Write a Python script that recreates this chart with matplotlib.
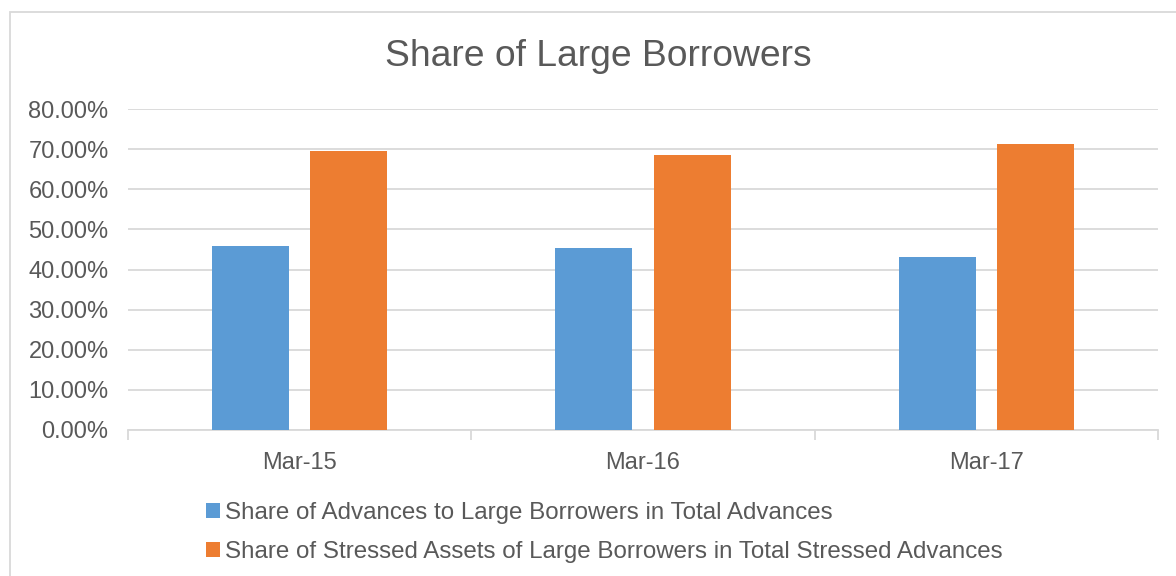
import numpy as np
import matplotlib
matplotlib.use("Agg")
import matplotlib.pyplot as plt
from matplotlib.patches import Rectangle
from matplotlib.ticker import FuncFormatter

plt.rcParams['font.family'] = ['Liberation Sans', 'DejaVu Sans']

periods = ["Mar-15", "Mar-16", "Mar-17"]
large_adv = [45.8, 45.3, 43.2]
large_stressed = [69.5, 68.5, 71.2]
labels = ["Share of Advances to Large Borrowers in Total Advances",
          "Share of Stressed Assets of Large Borrowers in Total Stressed Advances"]

txt = "#595959"
grid = "#D9D9D9"

fig = plt.figure(figsize=(11.76, 5.76), dpi=100)
ax = fig.add_axes([128/1176, 1-430/576, (1158-128)/1176, (430-109)/576])

x = np.arange(len(periods))
w = 0.224
off = 0.143
b1 = ax.bar(x - off, large_adv, w, color="#5B9BD5", label=labels[0], zorder=3)
b2 = ax.bar(x + off, large_stressed, w, color="#ED7D31", label=labels[1], zorder=3)

ax.set_xlim(-0.5, 2.5)
ax.set_ylim(0, 80)
ax.set_yticks(np.arange(0, 81, 10))
ax.yaxis.set_major_formatter(FuncFormatter(lambda v, p: "%.2f%%" % v))
ax.grid(axis="y", color=grid, linewidth=1.3, zorder=0)
for s in ["top", "right", "left"]:
    ax.spines[s].set_visible(False)
ax.spines["bottom"].set_color(grid)
ax.spines["bottom"].set_linewidth(1.3)

ax.set_xticks(x)
ax.set_xticklabels(periods)
ax.set_xticks([-0.5, 0.5, 1.5, 2.5], minor=True)
ax.tick_params(axis="x", which="major", length=0, pad=16, labelsize=17, labelcolor=txt)
ax.tick_params(axis="x", which="minor", length=7, width=1.3, color=grid)
ax.tick_params(axis="y", length=0, pad=14, labelsize=17, labelcolor=txt)

fig.text(598/1176, 1-57/576, "Share of Large Borrowers", ha="center", va="center",
         fontsize=26.8, color=txt)

fig.legend(handles=[b1, b2], loc="upper left", bbox_to_anchor=(184/1176, 1-480/576),
           frameon=False, fontsize=17.4, labelcolor=txt, handlelength=0.6, handleheight=0.6,
           handletextpad=0.2, labelspacing=0.72)

fig.patches.append(Rectangle((10/1176, -0.1), 1.2, 1-12/576 + 0.1, transform=fig.transFigure,
                             fill=False, edgecolor=grid, linewidth=1.3))

fig.savefig("out.png", dpi=100)
